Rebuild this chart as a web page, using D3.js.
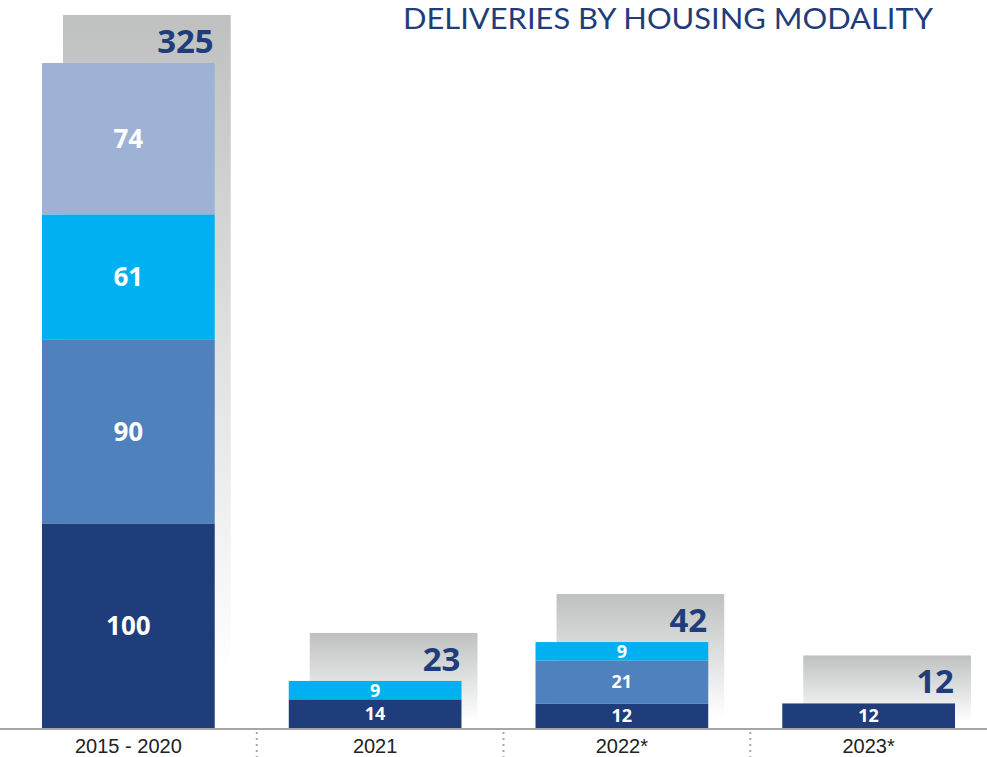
<!DOCTYPE html>
<html>
<head>
<meta charset="utf-8">
<script src="https://cdn.jsdelivr.net/npm/d3@7"></script>
<style>
  body { margin: 0; background: #fff; }
  svg { display: block; font-family: "Open Sans", sans-serif; }
  .axis text { font-size: 20px; fill: #222; }
</style>
</head>
<body>
<div id="chart"></div>
<script>
// categories and series values
var categories = ["2015 - 2020", "2021", "2022*", "2023*"];
var seriesKeys = ["s1", "s2", "s3", "s4"];
var s1 = [100, 14, 12, 12];   // dark navy
var s2 = [90, 0, 21, 0];      // mid blue
var s3 = [61, 9, 9, 0];       // cyan
var s4 = [74, 0, 0, 0];       // light blue
var totals = [325, 23, 42, 12];
var title = "DELIVERIES BY HOUSING MODALITY";

var colors = d3.scaleOrdinal()
  .domain(seriesKeys)
  .range(["#1f3d7a", "#4f81bd", "#00b0f0", "#9db2d5"]);

var data = categories.map(function (c, i) {
  return {cat: c, s1: s1[i], s2: s2[i], s3: s3[i], s4: s4[i], total: totals[i]};
});

var _width = 987, _height = 757;

var svg = d3.select("#chart").append("svg")
  .attr("width", _width)
  .attr("height", _height);

var defs = svg.append("defs");
var grad = defs.append("linearGradient")
  .attr("id", "shadowGrad")
  .attr("x1", 0).attr("y1", 0).attr("x2", 0).attr("y2", 1);
grad.append("stop").attr("offset", "0%").attr("stop-color", "#bfc1c1");
grad.append("stop").attr("offset", "92%").attr("stop-color", "#ffffff");

var x = d3.scaleBand()
  .domain(categories)
  .range([5, 992])
  .paddingInner(0.3)
  .paddingOuter(0.15);

var y = d3.scaleLinear()
  .domain([0, 325])
  .range([728, 63]);

var bw = x.bandwidth();

// gray shadow boxes behind each bar
svg.append("g").attr("class", "shadows")
  .selectAll("rect")
  .data(data)
  .enter().append("rect")
  .attr("x", function (d) { return x(d.cat) + 21; })
  .attr("y", function (d) { return y(d.total) - 48; })
  .attr("width", bw - 5)
  .attr("height", function (d) { return y(0) - y(d.total) + 48; })
  .attr("fill", "url(#shadowGrad)");

// totals
svg.append("g").attr("class", "totals")
  .selectAll("text")
  .data(data)
  .enter().append("text")
  .attr("x", function (d) { return x(d.cat) + 21 + bw - 5 - 17; })
  .attr("y", function (d) { return y(d.total) - 48 + 38; })
  .attr("text-anchor", "end")
  .style("font-size", "33px")
  .style("font-weight", "bold")
  .style("fill", "#1f3d7a")
  .text(function (d) { return d.total; });

var stack = d3.stack().keys(seriesKeys);
var series = stack(data);

var layers = svg.append("g").attr("class", "body")
  .selectAll("g")
  .data(series)
  .enter().append("g")
  .attr("fill", function (d) { return colors(d.key); });

layers.selectAll("rect")
  .data(function (d) { return d.filter(function (p) { return p[1] - p[0] > 0; }); })
  .enter().append("rect")
  .attr("x", function (d) { return x(d.data.cat); })
  .attr("y", function (d) { return y(d[1]); })
  .attr("width", bw)
  .attr("height", function (d) { return y(d[0]) - y(d[1]); });

layers.selectAll("text")
  .data(function (d) { return d.filter(function (p) { return p[1] - p[0] > 0; }); })
  .enter().append("text")
  .attr("x", function (d) { return x(d.data.cat) + bw / 2; })
  .attr("y", function (d) { return (y(d[0]) + y(d[1])) / 2; })
  .attr("dy", "0.36em")
  .attr("text-anchor", "middle")
  .style("font-weight", "bold")
  .style("font-size", function (d) { return y(d[0]) - y(d[1]) > 60 ? "26px" : "18px"; })
  .style("fill", "#fff")
  .text(function (d) { return d[1] - d[0]; });

// baseline
svg.append("line")
  .attr("x1", 0).attr("x2", _width)
  .attr("y1", 729).attr("y2", 729)
  .attr("stroke", "#a6a6a6")
  .attr("stroke-width", 2);

// dotted separators between categories
var seps = categories.slice(1).map(function (c) { return x(c) - (x.step() - bw) / 2 + 5; });
svg.append("g").attr("class", "seps")
  .selectAll("line")
  .data(seps)
  .enter().append("line")
  .attr("x1", function (d) { return d; })
  .attr("x2", function (d) { return d; })
  .attr("y1", 732).attr("y2", 757)
  .attr("stroke", "#a6a6a6")
  .attr("stroke-width", 2)
  .attr("stroke-dasharray", "2,4");

var xAxis = d3.axisBottom(x).tickSize(0).tickPadding(10);
var axisG = svg.append("g")
  .attr("class", "axis")
  .attr("transform", "translate(0," + 729 + ")")
  .call(xAxis);
axisG.select(".domain").remove();
axisG.selectAll("text").attr("font-family", null).attr("font-size", null);

// title
svg.append("text")
  .attr("x", 933)
  .attr("y", 29)
  .attr("text-anchor", "end")
  .attr("textLength", 530)
  .attr("lengthAdjust", "spacingAndGlyphs")
  .style("font-family", "Lato, sans-serif")
  .style("font-size", "29px")
  .style("fill", "#1f3d7a")
  .text(title);
</script>
</body>
</html>
